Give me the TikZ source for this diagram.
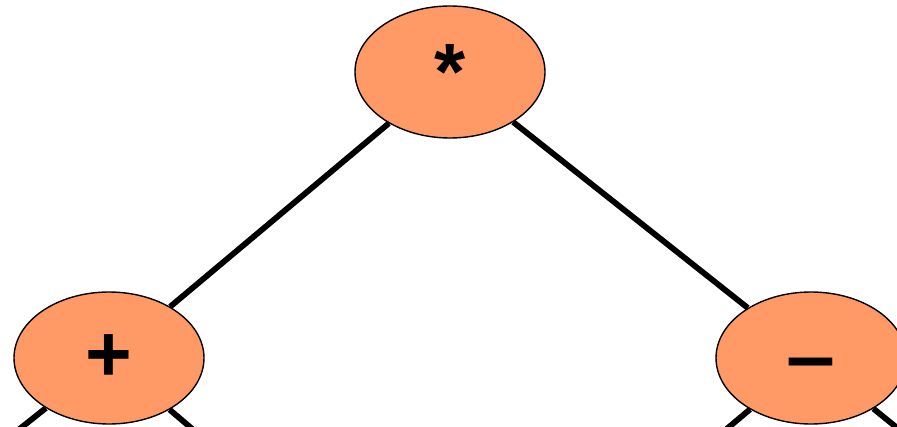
\documentclass[tikz,border=0pt]{standalone}
\usepackage{fontspec}
\setmainfont{Liberation Sans}
\usetikzlibrary{shapes.geometric}
\definecolor{peach}{HTML}{FF9966}

\begin{document}
\begin{tikzpicture}[x=0.5pt, y=-0.5pt,
  op/.style={ellipse, draw=black, line width=0.7pt, fill=peach, minimum width=95pt,
             minimum height=66pt, inner sep=0pt, font=\fontsize{40}{40}\selectfont\bfseries},
  edge/.style={draw=black, line width=2.9pt}]
\clip (0,0) rectangle (897,427);
\coordinate (l1) at (-152,565);
\coordinate (l2) at (352,565);
\coordinate (r1) at (565,565);
\coordinate (r2) at (1066,565);
\node[op] (mul) at (450,72) {*};
\node[op] (add) at (109,358) {+};
\node[op] (sub) at (811,358) {\raisebox{-6.5pt}[\height][0pt]{\scalebox{1.1}[1]{–}}};
\draw[edge] (mul) -- (add);
\draw[edge] (mul) -- (sub);
\draw[edge] (add) -- (l1);
\draw[edge] (add) -- (l2);
\draw[edge] (sub) -- (r1);
\draw[edge] (sub) -- (r2);
\end{tikzpicture}
\end{document}
